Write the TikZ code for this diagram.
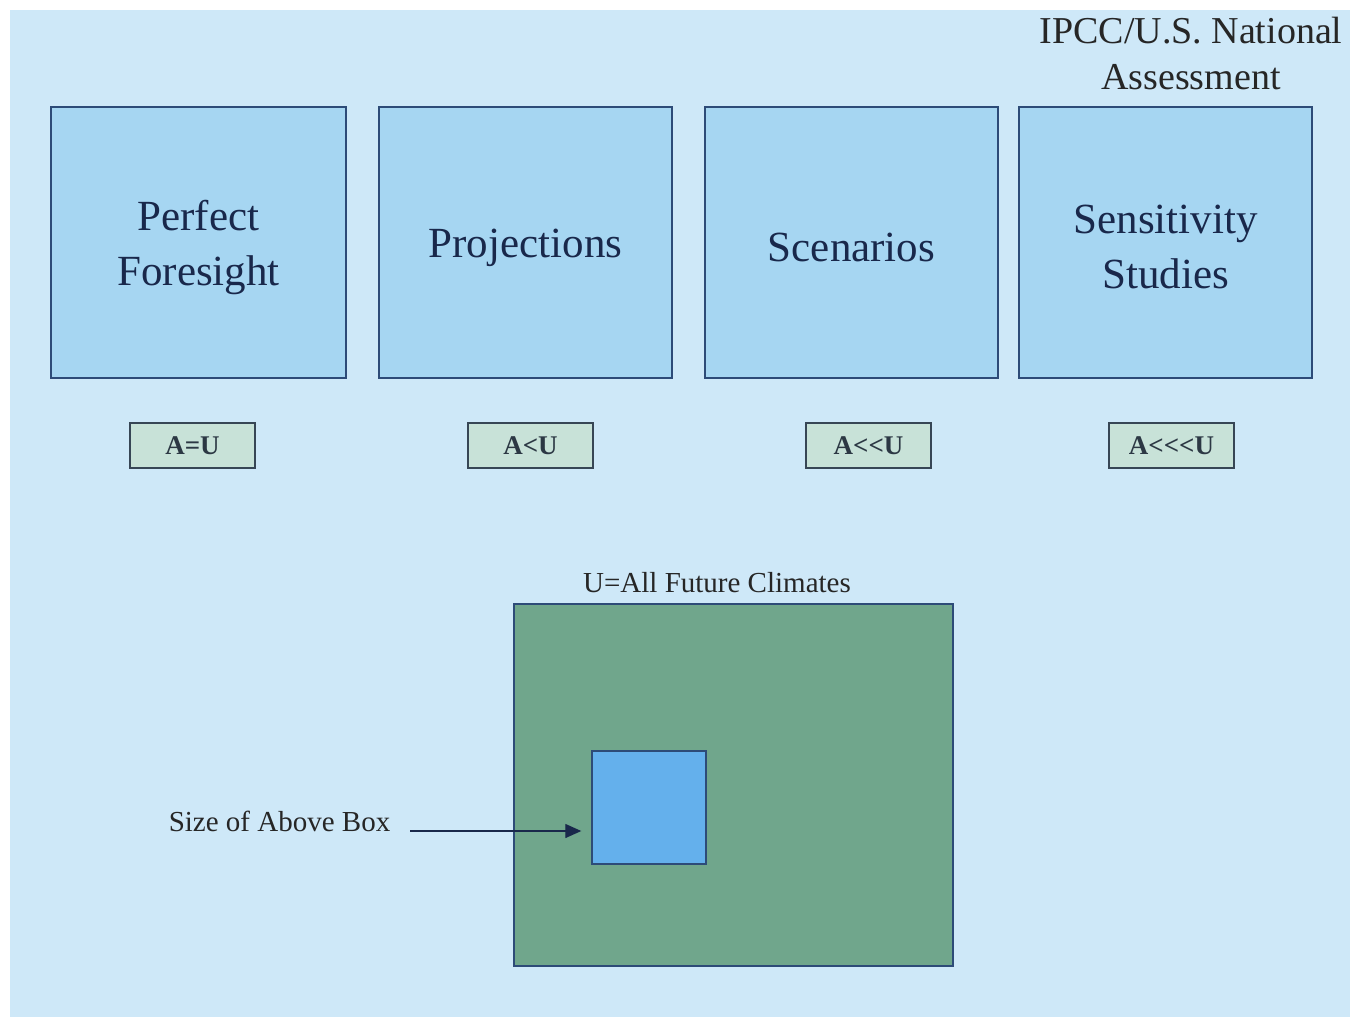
\documentclass[tikz,border=0pt]{standalone}
\usepackage{fontspec}
\setmainfont{Liberation Serif}
\usetikzlibrary{arrows.meta,calc}
\definecolor{bgblue}{RGB}{206,232,248}
\definecolor{boxfill}{RGB}{166,214,242}
\definecolor{boxline}{RGB}{45,75,120}
\definecolor{navytext}{RGB}{25,40,75}
\definecolor{smallfill}{RGB}{200,226,216}
\definecolor{smallline}{RGB}{55,70,85}
\definecolor{bigreen}{RGB}{112,166,140}
\definecolor{innerblue}{RGB}{100,176,236}
\tikzset{
  bigbox/.style={draw=boxline, line width=1.4pt, fill=boxfill, minimum width=293pt, minimum height=271pt, inner sep=0pt},
  bigtext/.style={inner sep=0pt, align=center, text=navytext, font=\fontsize{43}{55}\selectfont},
  smallbox/.style={draw=smallline, line width=1.4pt, fill=smallfill, minimum width=125pt, minimum height=45pt, inner sep=0pt, text=smallline!80!black, font=\fontsize{27}{30}\selectfont\bfseries},
  plaintext/.style={inner sep=0pt, text=black!85, align=center}
}
\begin{document}
\begin{tikzpicture}[x=1pt,y=-1pt]
\useasboundingbox (0,0) rectangle (1350,1017);
\fill[white] (0,0) rectangle (1350,1017);
\fill[bgblue] (10,10) rectangle (1360,1027);

\node[plaintext, font=\fontsize{38}{46}\selectfont] (title) at (1191,54) {IPCC/U.S. National\\Assessment};

\node[bigbox, minimum width=295pt] (pf) at (198.5,242.5) {};
\node[bigbox] (proj) at (525.5,242.5) {};
\node[bigbox] (scen) at (851.5,242.5) {};
\node[bigbox] (sens) at (1165.5,242.5) {};
\node[bigtext] (pft) at ($(pf.center)+(0,5)$) {Perfect\\Foresight};
\node[bigtext] (projt) at ($(proj.center)+(0,5)$) {Projections};
\node[bigtext] (scent) at ($(scen.center)+(0,5)$) {Scenarios};
\node[bigtext] (senst) at ($(sens.center)+(0,4)$) {Sensitivity\\Studies};

\node[smallbox] (s1) at (192.5,445.5) {A=U};
\node[smallbox] (s2) at (530.5,445.5) {A<U};
\node[smallbox] (s3) at (868.5,445.5) {A<{}<U};
\node[smallbox] (s4) at (1171.5,445.5) {A<{}<{}<U};

\node[plaintext, font=\fontsize{29}{32}\selectfont] (ulabel) at (717,583) {U=All Future Climates};
\node[draw=boxline, line width=1.4pt, fill=bigreen, minimum width=439pt, minimum height=362pt, inner sep=0pt] (univ) at (733.5,785) {};
\node[draw=boxline, line width=1.4pt, fill=innerblue, minimum width=114pt, minimum height=113pt, inner sep=0pt] (inner) at (649,807.5) {};

\node[plaintext, font=\fontsize{29}{32}\selectfont, anchor=base] (size) at (279.5,831) {Size of Above Box};
\coordinate (arrstart) at ($(size.base east)+(20,0)$);
\draw[navytext, line width=1.3pt, -{Triangle[length=16pt,width=14pt]}, shorten >=10pt] (arrstart) -- (inner.west |- arrstart);
\end{tikzpicture}
\end{document}
